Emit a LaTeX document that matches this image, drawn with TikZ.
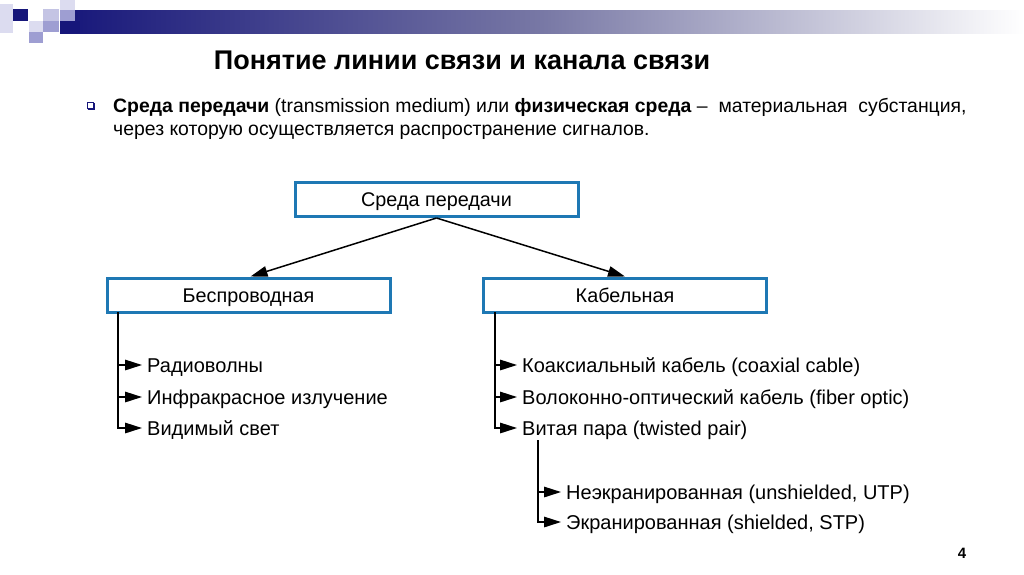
\documentclass[tikz,border=0pt]{standalone}
\usepackage{fontspec}
\setmainfont{Liberation Sans}
\usetikzlibrary{arrows.meta}
\definecolor{navy}{HTML}{16167A}
\definecolor{sqlight}{HTML}{DCDCF0}
\definecolor{sqmid}{HTML}{9E9ED2}
\definecolor{sqlav}{HTML}{C4C4E4}
\definecolor{boxblue}{HTML}{1E78B4}
\begin{document}
\begin{tikzpicture}[x=1pt,y=-1pt,
  box/.style={draw=boxblue, line width=3pt, fill=white, minimum width=283pt, minimum height=34pt, inner sep=0pt, text height=14pt, text depth=0pt, font=\fontsize{19.8}{23}\selectfont},
  item/.style={anchor=west, inner sep=0pt, text height=14pt, text depth=0pt, font=\fontsize{20}{23}\selectfont},
  conn/.style={line width=1.5pt, -{Triangle[length=17pt,width=10.5pt]}}]
\useasboundingbox (0,0) rectangle (1024,574);
\fill[white] (0,0) rectangle (1024,574);
% header decoration
\shade[left color=navy, right color=white, middle color={rgb,255:red,120;green,120;blue,165}] (60,10) rectangle (1024,33);
\fill[sqlight] (0,4) rectangle (13,33);
\fill[navy] (13,9) rectangle (28,21);
\fill[sqlav] (43,9) rectangle (59,21);
\fill[sqlight] (60,0) rectangle (75,10);
\fill[sqmid] (60,10) rectangle (75,21);
\fill[navy] (60,21) rectangle (80,33);
\fill[sqlight] (29,21) rectangle (43,32);
\fill[sqmid] (43,21) rectangle (59,32);
\fill[sqmid] (29,32) rectangle (43,43);
% title
\node[font=\bfseries\fontsize{27}{32}\selectfont, inner sep=0pt] (title) at (462,60) {Понятие линии связи и канала связи};
% bullet
\node[draw=navy, line width=0.8pt, minimum size=6pt, inner sep=0pt, fill=white] (bul) at (90,105) {};
\draw[navy, line width=1pt] ([xshift=1pt,yshift=-1pt]bul.south west) -- ([xshift=1pt,yshift=-1pt]bul.south east) -- ([xshift=1pt,yshift=-1pt]bul.north east);
\node[anchor=base west, inner sep=0pt, font=\fontsize{19.4}{23}\selectfont] (l1) at (113,112) {\textbf{Среда передачи} (transmission medium) или \textbf{физическая среда} – \ материальная \ субстанция,};
\node[anchor=base west, inner sep=0pt, font=\fontsize{19.4}{23}\selectfont] (l2) at (113,135) {через которую осуществляется распространение сигналов.};
% boxes
\node[box] (root) at (436.5,199.5) {Среда передачи};
\node[box] (wl) at (248.5,295) {Беспроводная};
\node[box] (cb) at (625,295) {Кабельная};
\draw[conn] (root.south) -- ([xshift=2pt]wl.north);
\draw[conn] (root.south) -- (cb.north);
% wireless list
\node[item] (w1) at (147,365) {Радиоволны};
\node[item] (w2) at (147,397) {Инфракрасное излучение};
\node[item] (w3) at (147,428) {Видимый свет};
\coordinate (wls) at (118,312);
\foreach \n in {w1,w2,w3} \draw[conn] (wls) |- ([xshift=-5pt]\n.west);
% cable list
\node[item] (c1) at (522,365) {Коаксиальный кабель (coaxial cable)};
\node[item] (c2) at (522,397) {Волоконно-оптический кабель (fiber optic)};
\node[item] (c3) at (522,428) {Витая пара (twisted pair)};
\coordinate (cbs) at (495,312);
\foreach \n in {c1,c2,c3} \draw[conn] (cbs) |- ([xshift=-5pt]\n.west);
% twisted pair sub-list
\node[item] (t1) at (566,492) {Неэкранированная (unshielded, UTP)};
\node[item] (t2) at (566,522) {Экранированная (shielded, STP)};
\coordinate (tps) at (538,440);
\foreach \n in {t1,t2} \draw[conn] (tps) |- ([xshift=-5pt]\n.west);
% page number
\node[font=\bfseries\fontsize{15}{18}\selectfont, inner sep=0pt] (pg) at (962,553) {4};
\end{tikzpicture}
\end{document}
